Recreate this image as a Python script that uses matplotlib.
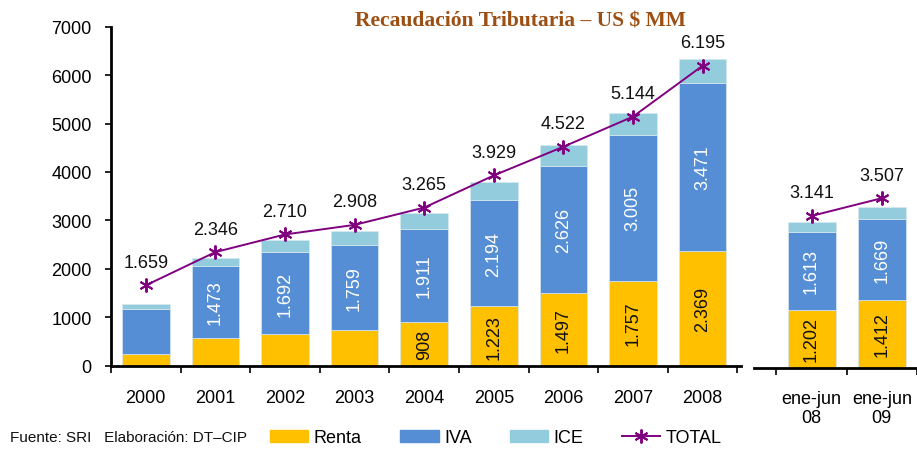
import matplotlib
matplotlib.use("Agg")
import matplotlib.pyplot as plt
from matplotlib.patches import Patch
from matplotlib.lines import Line2D
import numpy as np

plt.rcParams['font.family'] = ['Liberation Sans', 'DejaVu Sans']

# ---- data ----
years = ["2000", "2001", "2002", "2003", "2004", "2005", "2006", "2007", "2008"]
renta = [242, 578, 648, 737, 908, 1223, 1497, 1757, 2369]
iva = [935, 1473, 1692, 1759, 1911, 2194, 2626, 3005, 3471]
ice = [97, 180, 260, 290, 330, 370, 430, 450, 490]
total = [1659, 2346, 2710, 2908, 3265, 3929, 4522, 5144, 6195]
total_lbl = ["1.659", "2.346", "2.710", "2.908", "3.265", "3.929", "4.522", "5.144", "6.195"]
renta_lbl = [None, None, None, None, "908", "1.223", "1.497", "1.757", "2.369"]
iva_lbl = [None, "1.473", "1.692", "1.759", "1.911", "2.194", "2.626", "3.005", "3.471"]

periods = ["ene-jun\n08", "ene-jun\n09"]
renta_p = [1202, 1412]
iva_p = [1613, 1669]
ice_p = [210, 240]
total_p = [3141, 3507]
total_p_lbl = ["3.141", "3.507"]
renta_p_lbl = ["1.202", "1.412"]
iva_p_lbl = ["1.613", "1.669"]

C_RENTA = '#FFC000'
C_IVA = '#558ED5'
C_ICE = '#93CDDD'
C_TOT = '#800080'
FS = 13

fig = plt.figure(figsize=(9.17, 4.52), dpi=100)
ax = fig.add_axes([0.121, 0.1887, 0.687, 0.75])
ax2 = fig.add_axes([0.8222, 0.1836, 0.1778, 0.75])

def draw(a, cats, r, v, c, t, tl, rl, vl):
    x = np.arange(len(cats))
    w = 0.685
    ec = dict(edgecolor='#D8E8F0', linewidth=0.5)
    a.bar(x, r, w, color=C_RENTA, **ec)
    a.bar(x, v, w, bottom=r, color=C_IVA, **ec)
    a.bar(x, c, w, bottom=np.array(r) + np.array(v), color=C_ICE, **ec)
    a.plot(x, t, color=C_TOT, lw=1.4, marker=(6, 2, 0), ms=10, mew=1.4)
    for i in range(len(cats)):
        a.annotate(tl[i], (x[i], t[i]), xytext=(0, 16.5), textcoords='offset points',
                   ha='center', va='center', fontsize=FS, color='#111111')
        if rl[i]:
            a.text(x[i], r[i] / 2, rl[i], rotation=90, ha='center', va='center',
                   fontsize=FS, color='#111111')
        if vl[i]:
            a.text(x[i], r[i] + v[i] / 2, vl[i], rotation=90, ha='center', va='center',
                   fontsize=FS, color='white')
    a.set_ylim(0, 7000)
    a.set_xticks(x)
    a.set_xticklabels(cats, fontsize=FS)
    a.set_xticks(np.arange(len(cats) + 1) - 0.5, minor=True)
    a.tick_params(axis='x', which='major', length=0, pad=17)
    a.tick_params(axis='x', which='minor', length=5, width=1.2, direction='out')
    for s in ['top', 'right']:
        a.spines[s].set_visible(False)
    a.spines['bottom'].set_linewidth(2)
    a.spines['left'].set_linewidth(2)
    a.set_facecolor('none')

draw(ax, years, renta, iva, ice, total, total_lbl, renta_lbl, iva_lbl)
ax.set_xlim(-0.5, 8.55)
ax.set_yticks(range(0, 7001, 1000))
ax.set_yticklabels([str(v) for v in range(0, 7001, 1000)], fontsize=FS)
ax.tick_params(axis='y', length=4, width=1.2, direction='out', pad=10)

draw(ax2, periods, renta_p, iva_p, ice_p, total_p, total_p_lbl, renta_p_lbl, iva_p_lbl)
ax2.set_xlim(-0.82, 1.5)
ax2.spines['left'].set_visible(False)
ax2.set_yticks([])
ax2.tick_params(axis='x', which='major', pad=16)
for lbl in ax2.get_xticklabels():
    lbl.set_linespacing(1.15)

fig.text(0.568, 0.952, "Recaudación Tributaria – US $ MM", family=['Liberation Serif', 'DejaVu Serif'],
         fontweight='bold', fontsize=15.5, color='#9C4F12', ha='center', va='center')

fig.text(0.011, 0.015, "Fuente: SRI   Elaboración: DT–CIP",
         family=['Liberation Sans Narrow', 'Liberation Sans', 'DejaVu Sans'],
         fontsize=11, ha='left', va='bottom', color='#111111')

handles = [Patch(color=C_RENTA), Patch(color=C_IVA), Patch(color=C_ICE),
           Line2D([0], [0], color=C_TOT, lw=1.4, marker=(6, 2, 0), ms=10, mew=1.4)]
fig.legend(handles, ["Renta", "IVA", "ICE", "TOTAL"], ncol=4, frameon=False,
           loc='center left', bbox_to_anchor=(0.294, 0.029), fontsize=FS,
           handlelength=2.15, handleheight=0.6, handletextpad=0.3, columnspacing=2.1,
           borderpad=0, borderaxespad=0)

fig.savefig("out.png", dpi=100)
